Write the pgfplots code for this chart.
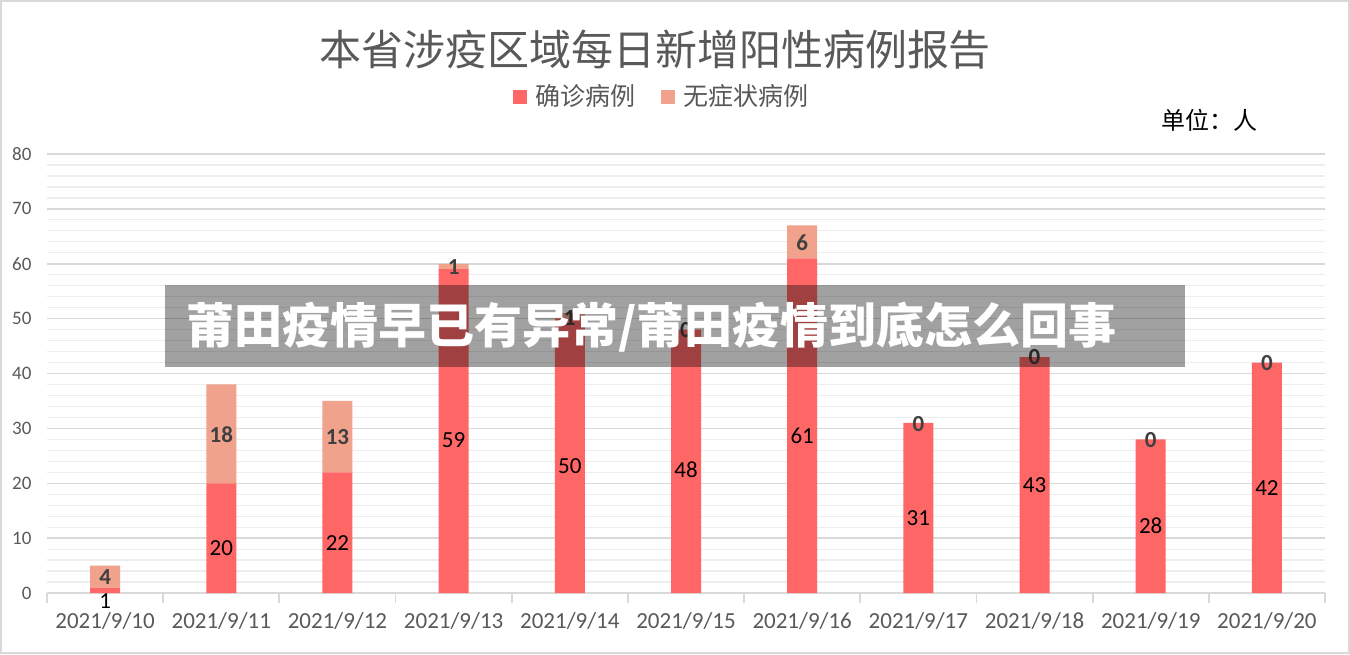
\documentclass[border=0pt]{standalone}
\usepackage{fontspec}
\usepackage{pgfplots}
\pgfplotsset{compat=1.18}
\setmainfont{Carlito}
\newfontfamily\cjk{Noto Sans CJK SC}
\definecolor{conf}{HTML}{FF6666}
\definecolor{asym}{HTML}{F0A28C}
\definecolor{txtgray}{HTML}{595959}
\definecolor{lblgray}{HTML}{404040}
\definecolor{gridmaj}{HTML}{D9D9D9}
\definecolor{gridmin}{HTML}{EDEDED}
\tikzset{cl/.style={font=\fontsize{11.5}{13}\selectfont, text=black},
         al/.style={font=\bfseries\fontsize{11.5}{13}\selectfont, text=lblgray}}
\newcommand\datalabels{%
% confirmed labels
\node[cl] at (axis cs:0,-1.4) {1};
\node[cl] at (axis cs:1,8.2) {20};
\node[cl] at (axis cs:2,9.1) {22};
\node[cl] at (axis cs:3,27.9) {59};
\node[cl] at (axis cs:4,23.1) {50};
\node[cl] at (axis cs:5,22.4) {48};
\node[cl] at (axis cs:6,28.6) {61};
\node[cl] at (axis cs:7,13.7) {31};
\node[cl] at (axis cs:8,19.7) {43};
\node[cl] at (axis cs:9,12.2) {28};
\node[cl] at (axis cs:10,19.1) {42};
% asymptomatic labels
\node[al] at (axis cs:0,2.9) {4};
\node[al] at (axis cs:1,28.8) {18};
\node[al] at (axis cs:2,28.4) {13};
\node[al] at (axis cs:3,59.4) {1};
\node[al] at (axis cs:4,50.2) {1};
\node[al] at (axis cs:5,47.9) {0};
\node[al] at (axis cs:6,63.9) {6};
\node[al] at (axis cs:7,30.8) {0};
\node[al] at (axis cs:8,43) {0};
\node[al] at (axis cs:9,27.9) {0};
\node[al] at (axis cs:10,41.9) {0};
}
\begin{document}
\begin{tikzpicture}
\path[use as bounding box] (0,0) rectangle (675pt,327pt);
\fill[white] (0,0) rectangle (675pt,327pt);
\draw[gridmaj, line width=1.2pt] (0.6pt,0.6pt) rectangle (674.4pt,326.4pt);
\begin{axis}[
  at={(23.5pt,30.5pt)}, anchor=south west,
  scale only axis, width=639pt, height=219.5pt,
  ybar stacked, bar width=15pt,
  xmin=-0.5, xmax=10.5, ymin=0, ymax=80,
  clip=false,
  axis x line*=bottom, axis y line*=left,
  y axis line style={draw=none},
  x axis line style={gridmaj, line width=0.9pt, -},
  ytick={0,10,...,80}, minor y tick num=4,
  ymajorgrids, yminorgrids,
  major grid style={gridmaj, line width=0.75pt},
  minor grid style={gridmin, line width=0.6pt},
  ytick style={draw=none},
  xtick={0,...,10},
  xticklabels={2021/9/10,2021/9/11,2021/9/12,2021/9/13,2021/9/14,2021/9/15,2021/9/16,2021/9/17,2021/9/18,2021/9/19,2021/9/20},
  minor xtick={-0.5,0.5,...,10.5},
  major x tick style={draw=none},
  minor x tick style={gridmaj, line width=0.9pt},
  minor tick length=5pt,
  tick align=outside,
  /pgf/number format/assume math mode=true,
  xticklabel style={font=\fontsize{11.5}{13}\selectfont, text=txtgray, yshift=-2pt},
  yticklabel style={font=\fontsize{9.5}{11}\selectfont, text=txtgray},
  legend style={at={(0.482,1.13)}, anchor=center, draw=none, fill=none,
    legend columns=2, font=\cjk\fontsize{12.5}{14}\selectfont, text=txtgray,
    /tikz/every even column/.append style={column sep=11pt}},
  legend image code/.code={\fill[#1] (0pt,-3.5pt) rectangle (7pt,3.5pt);},
  after end axis/.code={\datalabels},
]
\addplot[fill=conf, draw=none] coordinates {(0,1) (1,20) (2,22) (3,59) (4,50) (5,48) (6,61) (7,31) (8,43) (9,28) (10,42)};
\addlegendentry{\hspace{2pt}确诊病例}
\addplot[fill=asym, draw=none] coordinates {(0,4) (1,18) (2,13) (3,1) (4,1) (5,0) (6,6) (7,0) (8,0) (9,0) (10,0)};
\addlegendentry{\hspace{2pt}无症状病例}
\end{axis}
\node[text=txtgray, font=\cjk\fontsize{21}{25}\selectfont] at (327.5pt,302pt) {本省涉疫区域每日新增阳性病例报告};
\node[text=black, font=\cjk\fontsize{12}{14}\selectfont] at (604.5pt,267pt) {单位：人};
\fill[black, opacity=0.37] (82.5pt,143.5pt) rectangle (592.5pt,184.5pt);
\node[text=white, font=\cjk\bfseries\fontsize{24}{28}\selectfont, anchor=west, inner sep=0pt] at (93pt,163.5pt) {莆田疫情早已有异常/莆田疫情到底怎么回事};
\end{tikzpicture}
\end{document}
